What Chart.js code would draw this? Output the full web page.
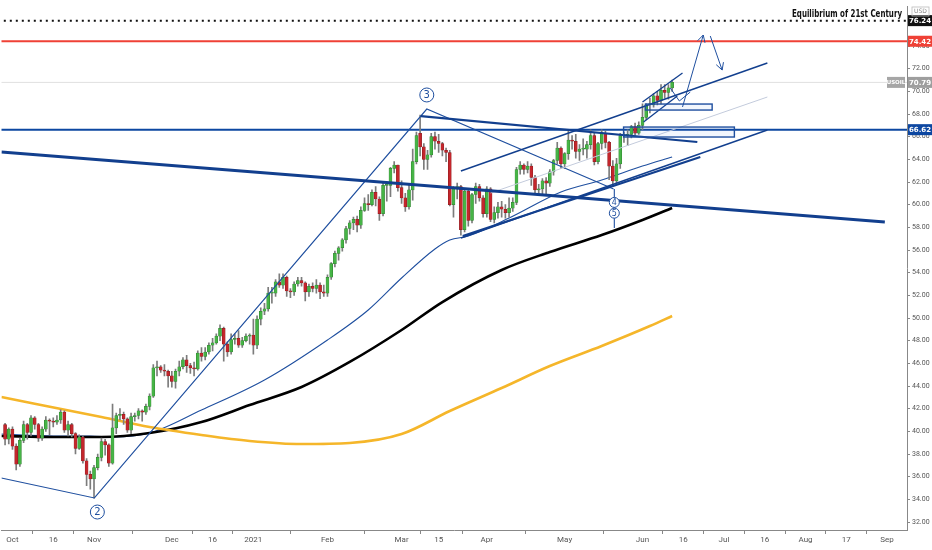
<!DOCTYPE html>
<html>
<head>
<meta charset="utf-8">
<script src="https://cdn.jsdelivr.net/npm/chart.js@4.4.0/dist/chart.umd.min.js"></script>
<style>
html, body { margin: 0; padding: 0; background: #fff; }
#wrap { width: 932px; height: 550px; position: relative; }
</style>
</head>
<body>
<div id="wrap"><canvas id="oilChart"></canvas></div>
<script>
// trading days, bar index 0 = 2020-09-28 (candles start at index 1)
const holidays = ['2020-12-25', '2021-01-01', '2021-04-02']
const dates = []
for (let d = new Date(Date.UTC(2020, 8, 28)); d <= new Date(Date.UTC(2021, 8, 10)); d.setUTCDate(d.getUTCDate() + 1)) {
    const s = d.toISOString().slice(0, 10)
    const wd = d.getUTCDay()
    if (wd !== 0 && wd !== 6 && !holidays.includes(s)) dates.push(s)
}
const idx = s => dates.indexOf(s)

// USOIL daily candles, 2020-09-29 .. 2021-06-11
const opens = [
    40.6, 39.3,
    40.2, 38.7, 37.1, 39.2, 40.6, 39.9, 41.2, 40.6, 39.4, 40.2, 41.0, 40.9, 40.8, 41.0, 41.7, 40.1, 40.6, 39.8, 38.5, 39.5, 37.4, 36.2,
    35.8, 36.8, 37.7, 39.1, 38.8, 37.2, 40.3, 41.4, 41.5, 41.1, 40.1, 41.3, 41.4, 41.8, 41.7, 42.2, 43.1, 45.6, 45.7, 45.4, 45.3,
    44.9, 44.4, 45.3, 45.7, 46.3, 45.8, 45.6, 45.5, 46.9, 46.6, 47.0, 47.6, 47.8, 48.4, 49.1, 47.7, 47.0, 48.1, 48.2, 47.6, 48.0, 48.4,
    48.5, 47.6, 49.9, 50.6, 50.8, 52.2, 52.2, 53.2, 52.9, 53.6, 52.4, 52.3, 53.0, 53.3, 53.1, 52.3, 52.8, 52.6, 52.9, 52.3,
    52.2, 53.6, 54.8, 55.7, 56.2, 56.9, 57.9, 58.4, 58.7, 58.2, 59.5, 60.1, 60.0, 61.1, 60.5, 59.2, 61.7, 61.7, 63.2, 63.5,
    61.5, 60.6, 59.8, 61.3, 63.8, 66.3, 65.1, 64.0, 64.4, 66.0, 65.6, 65.4, 64.8, 64.6, 60.0, 61.4, 61.6, 57.8, 61.2, 58.6, 60.9, 61.6, 60.6,
    59.2, 61.4, 58.7, 59.3, 59.8, 59.6, 59.3, 59.7, 60.2, 63.1, 63.5, 63.1, 63.4, 62.4, 61.3, 61.4, 62.1, 61.9, 62.9, 63.9, 65.0,
    63.6, 64.5, 65.7, 65.6, 64.7, 64.9, 64.9, 65.3, 66.1, 63.8, 65.4, 66.3, 65.5, 63.4, 62.1, 63.6, 66.1, 66.1, 66.2, 66.9, 66.3,
    67.0, 67.7, 68.8, 68.8, 69.6, 69.2, 70.1, 69.9, 70.3,
]
const highs = [
    40.7, 40.3,
    40.4, 38.9, 39.4, 40.9, 40.7, 41.4, 41.3, 40.7, 40.4, 41.3, 41.1, 41.2, 41.4, 41.9, 41.8, 40.9, 40.7, 39.9, 39.7, 39.6, 37.6, 36.5,
    37.0, 38.0, 39.4, 39.3, 38.9, 42.4, 41.6, 42.0, 41.7, 41.2, 41.6, 41.6, 42.0, 41.9, 42.4, 43.3, 45.9, 46.2, 45.8, 45.9, 45.4,
    45.3, 45.5, 46.2, 46.5, 46.7, 46.0, 46.1, 47.1, 47.4, 47.4, 47.8, 48.2, 48.6, 49.4, 49.2, 47.9, 48.6, 48.6, 48.9, 48.3, 48.6, 48.6,
    49.9, 50.2, 50.9, 51.3, 52.7, 52.7, 53.4, 53.9, 53.9, 53.7, 52.6, 53.2, 53.6, 53.6, 53.2, 53.0, 53.1, 53.4, 53.1, 52.9,
    53.8, 54.9, 55.9, 56.3, 57.0, 58.1, 58.6, 58.9, 59.0, 59.8, 60.6, 60.9, 61.3, 61.6, 60.7, 61.9, 62.0, 63.3, 63.8, 63.5,
    62.1, 61.0, 61.8, 64.9, 66.4, 67.9, 65.4, 64.8, 66.3, 66.4, 66.2, 65.5, 65.0, 64.8, 61.6, 61.9, 61.7, 61.3, 61.4, 61.0, 61.9, 61.8, 60.8,
    61.6, 61.5, 59.8, 60.2, 60.3, 60.0, 60.6, 60.6, 63.3, 63.8, 63.6, 63.8, 63.6, 62.6, 61.8, 62.3, 62.4, 63.1, 64.0, 65.5, 65.1,
    64.6, 66.5, 66.1, 66.2, 65.3, 65.8, 65.6, 66.6, 66.3, 65.5, 66.6, 66.5, 65.6, 63.9, 64.1, 66.3, 66.4, 66.6, 67.0, 67.2, 67.3,
    68.9, 68.9, 69.4, 69.8, 70.0, 70.6, 70.6, 70.6, 71.0,
]
const lows = [
    38.8, 38.9,
    38.4, 36.6, 36.9, 39.0, 39.3, 39.6, 40.2, 39.1, 39.2, 40.0, 39.7, 40.4, 40.6, 40.7, 39.9, 39.6, 39.5, 38.0, 38.4, 37.2, 35.2, 34.9,
    34.1, 36.6, 37.4, 37.9, 36.9, 37.1, 39.8, 41.0, 40.6, 39.9, 39.8, 40.9, 41.1, 40.9, 41.5, 41.9, 43.0, 44.9, 45.2, 44.9, 43.9,
    43.9, 43.8, 44.9, 45.5, 45.2, 45.1, 44.9, 45.4, 46.2, 46.3, 46.8, 47.1, 47.7, 48.0, 46.2, 46.6, 46.8, 47.7, 47.4, 47.4, 47.9, 47.7,
    46.8, 47.3, 49.4, 50.3, 50.6, 51.3, 51.9, 52.7, 52.6, 51.9, 51.8, 52.0, 52.8, 52.8, 51.5, 51.9, 52.3, 52.2, 51.7, 51.9,
    51.9, 53.4, 54.5, 55.1, 55.9, 56.6, 57.4, 57.8, 57.6, 57.9, 59.4, 59.5, 59.9, 59.9, 58.6, 59.0, 60.3, 60.7, 62.8, 61.2,
    60.1, 59.4, 59.6, 60.4, 63.6, 64.3, 63.1, 63.1, 64.2, 64.9, 64.6, 64.3, 63.8, 59.9, 58.9, 60.5, 57.3, 57.6, 58.1, 58.4, 60.1, 60.3, 58.9,
    58.9, 58.5, 58.4, 58.8, 58.9, 58.8, 58.9, 59.4, 60.0, 62.7, 62.7, 62.8, 61.7, 60.9, 60.8, 60.8, 60.9, 61.6, 62.6, 63.6, 63.2,
    63.2, 64.0, 64.9, 64.1, 63.9, 64.4, 64.1, 64.9, 63.5, 63.6, 64.9, 65.0, 62.2, 61.6, 61.8, 63.2, 65.5, 65.2, 65.9, 66.1, 66.2,
    66.6, 67.5, 68.1, 68.6, 68.8, 68.9, 69.4, 69.3, 70.0,
]
const closes = [
    39.3, 40.2,
    38.7, 37.1, 39.2, 40.6, 39.9, 41.2, 40.6, 39.4, 40.2, 41.0, 40.9, 40.8, 41.0, 41.7, 40.1, 40.6, 39.8, 38.5, 39.5, 37.4, 36.2, 35.8,
    36.8, 37.7, 39.1, 38.8, 37.2, 40.3, 41.4, 41.5, 41.1, 40.1, 41.3, 41.4, 41.8, 41.7, 42.2, 43.1, 45.6, 45.7, 45.4, 45.3, 44.9,
    44.4, 45.3, 45.7, 46.3, 45.8, 45.6, 45.5, 46.9, 46.6, 47.0, 47.6, 47.8, 48.4, 49.1, 47.7, 47.0, 48.1, 48.2, 47.6, 48.0, 48.4, 48.5,
    47.6, 49.9, 50.6, 50.8, 52.2, 52.2, 53.2, 52.9, 53.6, 52.4, 52.3, 53.0, 53.3, 53.1, 52.3, 52.8, 52.6, 52.9, 52.3, 52.2,
    53.6, 54.8, 55.7, 56.2, 56.9, 57.9, 58.4, 58.7, 58.2, 59.5, 60.1, 60.0, 61.1, 60.5, 59.2, 61.7, 61.7, 63.2, 63.5, 61.5,
    60.6, 59.8, 61.3, 63.8, 66.1, 65.1, 64.0, 64.4, 66.0, 65.6, 65.4, 64.8, 64.6, 60.0, 61.4, 61.6, 57.8, 61.2, 58.6, 60.9, 61.6, 60.6, 59.2,
    61.4, 58.7, 59.3, 59.8, 59.6, 59.3, 59.7, 60.2, 63.1, 63.5, 63.1, 63.4, 62.4, 61.3, 61.4, 62.1, 61.9, 62.9, 63.9, 65.0, 63.6,
    64.5, 65.7, 65.6, 64.7, 64.9, 64.9, 65.3, 66.1, 63.8, 65.4, 66.3, 65.5, 63.4, 62.1, 63.6, 66.1, 66.1, 66.2, 66.9, 66.3, 67.0,
    67.7, 68.8, 68.8, 69.6, 69.2, 70.1, 69.9, 70.3, 70.8,
]

// moving averages: [bar index, price]
const ma50 = [[0, 39.76], [14, 39.59], [24, 39.59], [30, 39.5], [40, 39.85], [54, 41.88], [71, 44.53], [88, 48.06], [99, 50.71], [108, 53.53], [117, 56.09], [121, 56.88], [126, 57.24], [137, 58.82], [151, 61.12], [162, 62.18], [173, 63.41], [181, 64.21]]
const ma100 = [[0, 39.59], [14, 39.5], [27, 39.5], [40, 39.85], [54, 40.82], [67, 42.32], [81, 43.91], [94, 46.12], [108, 48.94], [119, 51.41], [135, 54.24], [148, 55.82], [162, 57.32], [173, 58.65], [181, 59.71]]
const ma200 = [[0, 43.03], [27, 41.26], [40, 40.38], [54, 39.68], [67, 39.15], [81, 38.88], [94, 38.97], [108, 39.76], [121, 41.79], [135, 43.82], [148, 45.76], [162, 47.53], [175, 49.29], [181, 50.18]]

// drawn trend lines and wave path: [bar index, price]
const wavePath = [[0, 35.88], [25.1, 34.12], [114.8, 68.44], [165.2, 61.38]]
const waveDrop = [[165.4, 61.38], [165.4, 57.94]]
const longSupport = [[0, 64.65], [238.4, 58.47]]
const topLine = [[113.2, 67.82], [187.8, 65.53]]
const upperChannel = [[124, 62.97], [206.7, 72.5]]
const midChannel = [[132, 61.03], [206.7, 69.5]]
const lowerChannel = [[124, 57.06], [206.7, 66.59]]
const risingSupport = [[124.5, 57.24], [188.6, 64.21]]
const wedgeTop = [[173, 69.06], [183.8, 71.62]]
const wedgeBottom = [[173.3, 67.29], [182.4, 69.59]]
const miniDip = [[180.5, 70.29], [182.95, 69.15], [185.9, 69.94]]
const arrowUp = [[183.8, 68.62], [189.4, 74.97]]
const arrowDown = [[191.3, 74.88], [194.5, 71.88]]
const zones = [[173.8, 68.88, 191.8, 68.35], [167.9, 66.85, 197.8, 65.97]]
const waveLabels = [['2', 25.9, 32.88, 7], ['3', 114.8, 69.68, 7], ['4', 165.4, 60.2, 5], ['5', 165.4, 59.25, 5]]

// horizontal levels
const levelEquilibrium = 76.24
const levelResistance = 74.42
const lastPrice = 70.79
const levelSupport = 66.62

// time axis ticks
const tickDates = ['2020-10-01', '2020-10-16', '2020-11-02', '2020-12-01', '2020-12-16', '2021-01-04', '2021-02-01', '2021-03-01', '2021-03-15', '2021-04-01', '2021-05-03', '2021-06-01', '2021-06-16', '2021-07-01', '2021-07-16', '2021-08-02', '2021-08-17', '2021-09-01']
const tickLabels = ['Oct', '16', 'Nov', 'Dec', '16', '2021', 'Feb', 'Mar', '15', 'Apr', 'May', 'Jun', '16', 'Jul', '16', 'Aug', '17', 'Sep']

const WAVE = '#1f4f9f'
const DARK = '#123f8e'
const UP = '#46b446'
const DOWN = '#c4262c'

const wickData = opens.map((o, k) => ({ x: k + 1, y: [lows[k], highs[k]] }))
const bodyData = opens.map((o, k) => ({ x: k + 1, y: [o, closes[k]] }))
const bodyColors = opens.map((o, k) => (closes[k] >= o ? UP : DOWN))
const bodyBorders = opens.map((o, k) => (closes[k] >= o ? '#2c7d2c' : '#86191d'))

const pts = arr => arr.map(([x, y]) => ({ x, y }))
const line = (arr, color, width, extra) => Object.assign({
    type: 'line',
    data: pts(arr),
    borderColor: color,
    borderWidth: width,
    pointRadius: 0,
    fill: false,
    tension: 0,
    order: 1,
}, extra || {})
const ma = (arr, color, width) => line(arr, color, width, { tension: 0.4, cubicInterpolationMode: 'monotone', order: 6 })

const X_MIN = 0.04
const X_MAX = 244.38
const hline = (v, color, width, dash) => line([[X_MIN - 1, v], [X_MAX + 1, v]], color, width, { borderDash: dash || [], order: 7 })

const overlay = {
    id: 'overlay',
    afterDatasetsDraw(chart) {
        const { ctx, chartArea: a, scales: { x, y } } = chart
        const px = (i, p) => [x.getPixelForValue(i), y.getPixelForValue(p)]
        ctx.save()
        ctx.beginPath()
        ctx.rect(a.left, a.top, a.right - a.left, a.bottom - a.top)
        ctx.clip()

        ctx.strokeStyle = WAVE
        ctx.lineWidth = 1.4
        zones.forEach(([i0, p0, i1, p1]) => {
            const [x0, y0] = px(i0, p0)
            const [x1, y1] = px(i1, p1)
            ctx.fillStyle = 'rgba(33,110,220,0.06)'
            ctx.fillRect(x0, y0, x1 - x0, y1 - y0)
            ctx.strokeRect(x0, y0, x1 - x0, y1 - y0)
        })

        ctx.lineWidth = 1
        ;[arrowUp, arrowDown].forEach(arr => {
            const [x0, y0] = px(...arr[0])
            const [x1, y1] = px(...arr[1])
            const ang = Math.atan2(y1 - y0, x1 - x0)
            ctx.beginPath()
            ctx.moveTo(x1 - 8 * Math.cos(ang - 0.5), y1 - 8 * Math.sin(ang - 0.5))
            ctx.lineTo(x1, y1)
            ctx.lineTo(x1 - 8 * Math.cos(ang + 0.5), y1 - 8 * Math.sin(ang + 0.5))
            ctx.stroke()
        })

        waveLabels.forEach(([t, i, p, r]) => {
            const [cx, cy] = px(i, p)
            ctx.beginPath()
            ctx.arc(cx, cy, r, 0, Math.PI * 2)
            ctx.fillStyle = '#fff'
            ctx.fill()
            ctx.strokeStyle = WAVE
            ctx.stroke()
            ctx.fillStyle = WAVE
            ctx.font = (r > 6 ? 10 : 8) + 'px "DejaVu Sans"'
            ctx.textAlign = 'center'
            ctx.textBaseline = 'middle'
            ctx.fillText(t, cx, cy + 0.5)
        })
        ctx.restore()
    },
    afterDraw(chart) {
        const { ctx, chartArea: a, scales: { y } } = chart
        ctx.save()
        // title squeezed to the narrow width it has in the reference
        const title = 'Equilibrium of 21st Century'
        ctx.font = 'bold 10.5px "DejaVu Sans"'
        ctx.fillStyle = '#111'
        ctx.textAlign = 'left'
        ctx.textBaseline = 'alphabetic'
        const w = ctx.measureText(title).width
        ctx.translate(a.right - 115, 17)
        ctx.scale(110 / w, 1)
        ctx.fillText(title, 0, 0)
        ctx.restore()

        ctx.save()
        const tag = (v, bg, text, left, w, size) => {
            const yy = y.getPixelForValue(v)
            ctx.fillStyle = bg
            ctx.fillRect(left, yy - 5.5, w, 11)
            ctx.fillStyle = '#fff'
            ctx.font = 'bold ' + (size || 7) + 'px "DejaVu Sans"'
            ctx.textAlign = 'center'
            ctx.textBaseline = 'middle'
            ctx.fillText(text, left + w / 2, yy + 0.5)
        }
        tag(levelEquilibrium, '#111', levelEquilibrium.toFixed(2), a.right + 1, 24)
        tag(levelResistance, '#ef4136', levelResistance.toFixed(2), a.right + 1, 24)
        tag(lastPrice, '#9e9e9e', lastPrice.toFixed(2), a.right + 1, 24)
        tag(lastPrice, '#a6a6a6', 'USOIL', a.right - 20, 18, 5.5)
        tag(levelSupport, '#0d47a1', levelSupport.toFixed(2), a.right + 1, 24)

        ctx.strokeStyle = '#bbb'
        ctx.lineWidth = 0.8
        ctx.strokeRect(a.right + 5, 7, 17, 9)
        ctx.fillStyle = '#888'
        ctx.font = '6px "DejaVu Sans"'
        ctx.fillText('USD', a.right + 13.5, 11.5)
        ctx.restore()
    },
}

const chart = new Chart(document.getElementById('oilChart'), {
    type: 'bar',
    data: {
        datasets: [
            ma(ma200, '#f5b62a', 2.6),
            ma(ma100, '#000', 2.6),
            ma(ma50, WAVE, 1.1),
            hline(lastPrice, '#e0e0e0', 1),
            hline(levelEquilibrium, '#111', 2, [2, 4]),
            hline(levelResistance, '#ef4136', 2),
            hline(levelSupport, '#0d47a1', 2),
            {
                type: 'bar',
                data: wickData,
                backgroundColor: '#7c7c7c',
                barThickness: 1,
                grouped: false,
                order: 5,
            },
            {
                type: 'bar',
                data: bodyData,
                backgroundColor: bodyColors,
                borderColor: bodyBorders,
                borderWidth: 0.5,
                borderSkipped: false,
                barThickness: 3,
                minBarLength: 1,
                grouped: false,
                order: 4,
            },
            line(longSupport, DARK, 3),
            line(topLine, DARK, 2.2),
            line(risingSupport, DARK, 2.2),
            line(upperChannel, DARK, 1.4),
            line(lowerChannel, DARK, 1.4),
            line(midChannel, '#c3cbdc', 1),
            line(wavePath, WAVE, 1.1),
            line(waveDrop, WAVE, 1.1),
            line(wedgeTop, DARK, 1.3),
            line(wedgeBottom, DARK, 1.3),
            line(miniDip, WAVE, 1),
            line(arrowUp, WAVE, 1),
            line(arrowDown, WAVE, 1),
        ],
    },
    options: {
        responsive: true,
        maintainAspectRatio: false,
        animation: false,
        events: [],
        layout: { padding: 0 },
        plugins: { legend: { display: false }, tooltip: { enabled: false } },
        scales: {
            x: {
                type: 'linear',
                min: X_MIN,
                max: X_MAX,
                offset: false,
                grid: { drawOnChartArea: false, drawTicks: true, tickLength: 4, color: '#888' },
                border: { color: '#888' },
                ticks: {
                    autoSkip: false,
                    maxRotation: 0,
                    padding: 1,
                    color: '#555',
                    font: { size: 8, family: 'Roboto' },
                    callback: (v, i) => tickLabels[i],
                },
                afterBuildTicks: s => { s.ticks = tickDates.map(d => ({ value: idx(d) })) },
                afterFit: s => { s.height = 20 },
            },
            y: {
                type: 'linear',
                position: 'right',
                min: 31.29,
                max: 78.06,
                grid: { drawOnChartArea: false, drawTicks: true, tickLength: 3, color: '#888' },
                border: { color: '#888' },
                ticks: {
                    stepSize: 2,
                    includeBounds: false,
                    padding: 2,
                    color: '#555',
                    font: { size: 7, family: 'Roboto' },
                    callback: v => v.toFixed(2),
                },
                afterFit: s => { s.width = 25 },
            },
        },
    },
    plugins: [overlay],
})

// pin the scales so 32.00 and Oct 1 land where the reference puts them
const area = chart.chartArea
chart.options.scales.y.min = 32 - (area.bottom - 522) / 11.333
chart.options.scales.y.max = 32 + (522 - area.top) / 11.333
chart.options.scales.x.min = 3 - (11 - area.left) / 3.712
chart.options.scales.x.max = 3 + (area.right - 11) / 3.712
chart.update('none')
</script>
</body>
</html>
